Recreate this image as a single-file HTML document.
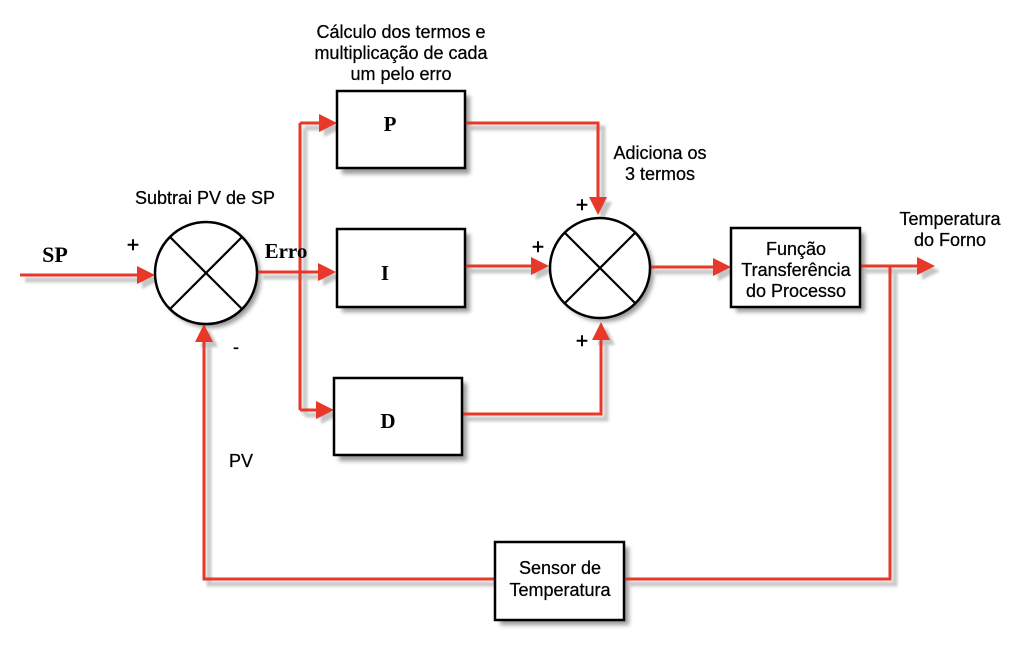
<!DOCTYPE html>
<html>
<head>
<meta charset="utf-8">
<style>
html,body{margin:0;padding:0;background:#fff;}
svg{display:block;}
.t{font-family:"Liberation Sans",Arial,sans-serif;font-size:18px;fill:#000;stroke:#000;stroke-width:0.25;}
.b{font-family:"Liberation Serif","Times New Roman",serif;font-weight:bold;fill:#000;}
.pl{font-family:"Liberation Sans",Arial,sans-serif;font-size:21px;fill:#000;stroke:#000;stroke-width:0.5;}
</style>
</head>
<body>
<svg width="1024" height="658" viewBox="0 0 1024 658" xmlns="http://www.w3.org/2000/svg">
<defs>
<filter id="blur" x="-10%" y="-10%" width="120%" height="120%"><feGaussianBlur stdDeviation="1.2"/></filter>
<filter id="bs" x="-20%" y="-20%" width="140%" height="140%"><feGaussianBlur stdDeviation="2"/></filter>
</defs>
<rect width="1024" height="658" fill="#fff"/>

<!-- shadows of connectors -->
<g transform="translate(5,5)" filter="url(#blur)" stroke="#cacaca" stroke-width="5" fill="none">
<path d="M20 275 H140"/>
<path d="M258 272 H320"/>
<path d="M300 123 V410"/>
<path d="M300 123 H320"/>
<path d="M300 410 H318"/>
<path d="M465 123 H598 V197"/>
<path d="M465 266 H531"/>
<path d="M462 414 H601 V340"/>
<path d="M650 267 H713"/>
<path d="M860 266 H917"/>
<path d="M890 266 V579 H625"/>
<path d="M495 579 H204 V342"/>
<g fill="#c4c4c4" stroke="none">
<polygon points="155,275 137,266 137,284"/>
<polygon points="336,272 318,263 318,281"/>
<polygon points="337,123 319,114 319,132"/>
<polygon points="334,410 316,401 316,419"/>
<polygon points="598,215 589,197 607,197"/>
<polygon points="549,266 531,257 531,275"/>
<polygon points="601,322 592,340 610,340"/>
<polygon points="731,267 713,258 713,276"/>
<polygon points="935,266 917,257 917,275"/>
<polygon points="204,324 195,342 213,342"/>
</g>
</g>

<!-- box shadows -->
<g fill="#8a8a8a" filter="url(#bs)" opacity="0.85">
<rect x="342" y="96" width="128" height="78"/>
<rect x="342" y="234" width="128" height="78"/>
<rect x="339" y="383" width="128" height="78"/>
<rect x="736" y="233" width="129" height="79"/>
<rect x="500" y="547" width="129" height="78"/>
<circle cx="210" cy="277" r="51"/>
<circle cx="604" cy="272" r="50"/>
</g>

<!-- red connectors -->
<g stroke="#e8382a" stroke-width="3" fill="none">
<path d="M20 275 H140"/>
<path d="M258 272 H320"/>
<path d="M300 123 V410"/>
<path d="M300 123 H320"/>
<path d="M300 410 H318"/>
<path d="M465 123 H598 V197"/>
<path d="M465 266 H531"/>
<path d="M462 414 H601 V340"/>
<path d="M650 267 H713"/>
<path d="M860 266 H917"/>
<path d="M890 266 V579 H625"/>
<path d="M495 579 H204 V342"/>
</g>
<g fill="#e8382a">
<polygon points="155,275 137,266 137,284"/>
<polygon points="336,272 318,263 318,281"/>
<polygon points="337,123 319,114 319,132"/>
<polygon points="334,410 316,401 316,419"/>
<polygon points="598,215 589,197 607,197"/>
<polygon points="549,266 531,257 531,275"/>
<polygon points="601,322 592,340 610,340"/>
<polygon points="731,267 713,258 713,276"/>
<polygon points="935,266 917,257 917,275"/>
<polygon points="204,324 195,342 213,342"/>
</g>

<!-- boxes -->
<g fill="#fff" stroke="#000" stroke-width="2.5">
<rect x="337" y="91" width="128" height="77"/>
<rect x="337" y="229" width="128" height="78"/>
<rect x="334" y="378" width="128" height="77"/>
<rect x="731" y="228" width="129" height="79"/>
<rect x="495" y="542" width="129" height="78"/>
</g>

<!-- summing junctions -->
<g fill="#fff" stroke="#000" stroke-width="2.5">
<circle cx="206" cy="273" r="51"/>
<circle cx="600" cy="268" r="50"/>
</g>
<g stroke="#000" stroke-width="2.2">
<line x1="170" y1="237" x2="242" y2="309"/>
<line x1="242" y1="237" x2="170" y2="309"/>
<line x1="565" y1="233" x2="635" y2="303"/>
<line x1="635" y1="233" x2="565" y2="303"/>
</g>

<!-- labels -->
<text class="b" x="55" y="262" font-size="22" text-anchor="middle">SP</text>
<text class="b" x="286" y="258" font-size="21" text-anchor="middle">Erro</text>
<text class="b" x="390" y="131" font-size="21" text-anchor="middle">P</text>
<text class="b" x="385" y="280" font-size="21" text-anchor="middle">I</text>
<text class="b" x="388" y="428" font-size="21" text-anchor="middle">D</text>

<text class="t" x="205" y="204" text-anchor="middle">Subtrai PV de SP</text>
<text class="t" x="401" y="38" text-anchor="middle">Cálculo dos termos e</text>
<text class="t" x="401" y="59" text-anchor="middle">multiplicação de cada</text>
<text class="t" x="401" y="80" text-anchor="middle">um pelo erro</text>
<text class="t" x="660" y="159" text-anchor="middle">Adiciona os</text>
<text class="t" x="660" y="180" text-anchor="middle">3 termos</text>
<text class="t" x="796" y="255" text-anchor="middle">Função</text>
<text class="t" x="796" y="276" text-anchor="middle">Transferência</text>
<text class="t" x="796" y="297" text-anchor="middle">do Processo</text>
<text class="t" x="950" y="225" text-anchor="middle">Temperatura</text>
<text class="t" x="950" y="246" text-anchor="middle">do Forno</text>
<text class="t" x="560" y="574" text-anchor="middle">Sensor de</text>
<text class="t" x="560" y="596" text-anchor="middle">Temperatura</text>
<text class="t" x="241" y="467" text-anchor="middle">PV</text>

<text class="pl" x="133" y="252" text-anchor="middle">+</text>
<text class="t" x="236" y="353" text-anchor="middle">-</text>
<text class="pl" x="582" y="212" text-anchor="middle">+</text>
<text class="pl" x="538" y="254" text-anchor="middle">+</text>
<text class="pl" x="582" y="348" text-anchor="middle">+</text>
</svg>
</body>
</html>
